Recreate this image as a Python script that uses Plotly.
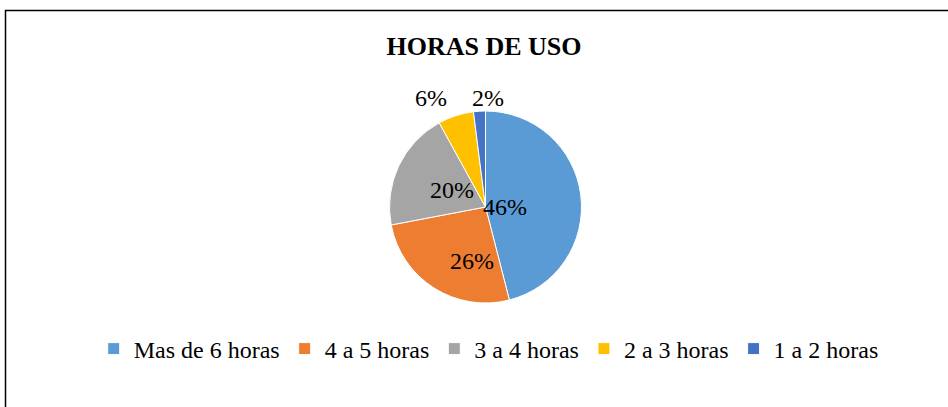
import plotly.graph_objects as go

categories = ["Mas de 6 horas", "4 a 5 horas", "3 a 4 horas", "2 a 3 horas", "1 a 2 horas"]
values = [46, 26, 20, 6, 2]
colors = ["#5B9BD5", "#ED7D31", "#A5A5A5", "#FFC000", "#4472C4"]
title_text = "HORAS DE USO"

W, H = 948, 407
cx, cy, r = 485.5, 207.0, 96.0
# data-label anchor points (pixels), as Excel placed them
label_xy = [(505, 207), (472, 261), (452, 190), (431, 98), (488, 98)]

total = sum(values)
pct_text = [f"{round(100 * v / total)}%" for v in values]

fig = go.Figure(go.Pie(
    labels=categories,
    values=values,
    sort=False,
    direction="clockwise",
    rotation=0,
    marker=dict(colors=colors, line=dict(color="white", width=1)),
    textinfo="none",
    domain=dict(x=[(cx - r) / W, (cx + r) / W], y=[1 - (cy + r) / H, 1 - (cy - r) / H]),
    showlegend=True,
    hoverinfo="label+percent",
))

annotations = [
    dict(text=t, x=px / W, y=1 - py / H, xref="paper", yref="paper",
         xanchor="center", yanchor="middle", showarrow=False,
         font=dict(family="Liberation Serif", size=24, color="black"))
    for t, (px, py) in zip(pct_text, label_xy)
]

fig.update_layout(
    width=W, height=H,
    margin=dict(l=0, r=0, t=0, b=0),
    paper_bgcolor="white",
    plot_bgcolor="white",
    title=dict(text="<b>" + title_text + "</b>", x=484 / W, xanchor="center",
               y=1 - 46 / H, yanchor="middle", yref="container",
               font=dict(family="Liberation Serif", size=26, color="black")),
    legend=dict(orientation="h", x=0.5155, xanchor="center", y=1 - 349 / H, yanchor="middle",
                font=dict(family="Liberation Serif", size=24, color="black"),
                itemwidth=30, traceorder="normal"),
    annotations=annotations,
    shapes=[dict(type="rect", xref="paper", yref="paper",
                 x0=5.5 / W, x1=1.02, y0=-0.02, y1=1 - 10.5 / H,
                 line=dict(color="black", width=1.5))],
)

fig.write_html("out.html", config={"displayModeBar": False},
               post_script="document.body.style.margin='0';")
